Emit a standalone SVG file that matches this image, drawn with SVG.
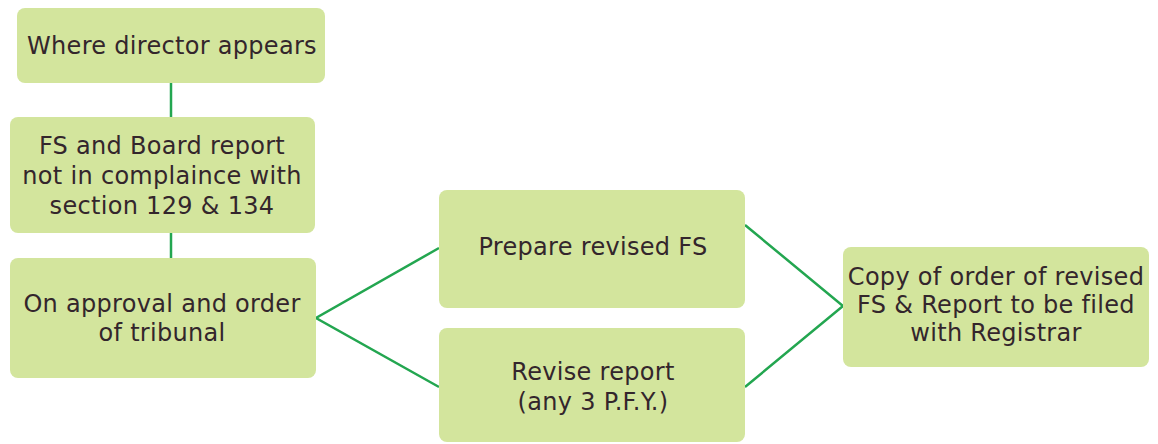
<svg xmlns="http://www.w3.org/2000/svg" width="1158" height="444" viewBox="0 0 1158 444">
<style>
.box{fill:#d3e59d;}
.t{font-family:"DejaVu Sans","Liberation Sans",sans-serif;font-size:24px;letter-spacing:0.3px;fill:#33262c;text-anchor:middle;}
.c{stroke:#23a650;stroke-width:2.5;fill:none;}
</style>
<rect width="1158" height="444" fill="#ffffff"/>
<g id="connectors">
<line class="c" x1="171" y1="83" x2="171" y2="117"/>
<line class="c" x1="171" y1="233" x2="171" y2="259"/>
<polyline class="c" points="439,248 316,318 439,387"/>
<polyline class="c" points="745,225 843,306 745,387"/>
</g>
<g id="n1"><rect class="box" x="17" y="8" width="308" height="75" rx="8"/><text class="t" x="172" y="54">Where director appears</text></g>
<g id="n2"><rect class="box" x="10" y="117" width="305" height="116" rx="8"/><text class="t" x="162" y="154">FS and Board report</text><text class="t" x="162" y="184">not in complaince with</text><text class="t" x="162" y="214">section 129 &amp; 134</text></g>
<g id="n3"><rect class="box" x="10" y="258" width="306" height="120" rx="8"/><text class="t" x="162" y="312">On approval and order</text><text class="t" x="162" y="341">of tribunal</text></g>
<g id="n4"><rect class="box" x="439" y="190" width="306" height="118" rx="8"/><text class="t" x="593" y="255">Prepare revised FS</text></g>
<g id="n5"><rect class="box" x="439" y="328" width="306" height="114" rx="8"/><text class="t" x="593" y="380">Revise report</text><text class="t" x="593" y="410">(any 3 P.F.Y.)</text></g>
<g id="n6"><rect class="box" x="843" y="247" width="306" height="120" rx="8"/><text class="t" x="996" y="285">Copy of order of revised</text><text class="t" x="996" y="313">FS &amp; Report to be filed</text><text class="t" x="996" y="341">with Registrar</text></g>
</svg>
